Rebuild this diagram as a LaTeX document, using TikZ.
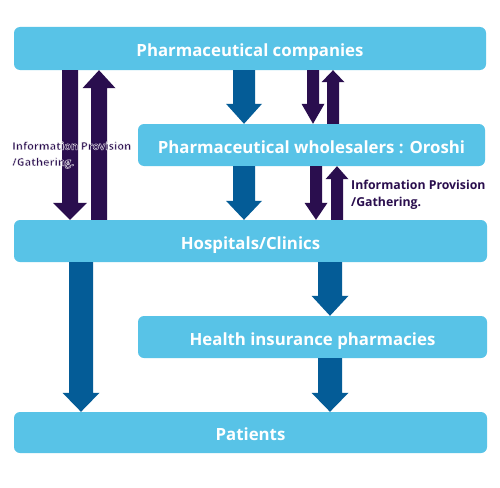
\documentclass[tikz,border=0pt]{standalone}
\usepackage{fontspec}
\setmainfont{Open Sans}
\usetikzlibrary{calc}
\definecolor{boxblue}{HTML}{58C3E7}
\definecolor{arrblue}{HTML}{045C97}
\definecolor{arrpurple}{HTML}{2A0E4E}
\newcommand\halotext[1]{\special{pdf:code 2 Tr 0.35 w 1 1 1 RG}#1\special{pdf:code 0 Tr}}
\tikzset{
  box/.style={fill=boxblue, rounded corners=6pt, inner sep=0pt, text=white,
    font=\bfseries\fontsize{16.8}{20}\selectfont, anchor=center,
    text height=16pt, text depth=0pt},
  lbl/.style={text=arrpurple, font=\bfseries\fontsize{10.9}{16}\selectfont, align=left, inner sep=0pt}
}
% down arrow: color, x, from node, to node, shaft half, head half, head length
\newcommand\dnarrow[7]{%
  \fill[#1] let \p1=(#3.south), \p2=(#4.north) in
   (#2pt-#5pt,\y1) -- (#2pt+#5pt,\y1) -- (#2pt+#5pt,\y2+#7pt) -- (#2pt+#6pt,\y2+#7pt)
   -- (#2pt,\y2) -- (#2pt-#6pt,\y2+#7pt) -- (#2pt-#5pt,\y2+#7pt) -- cycle;}
% up arrow: color, x, lower node, upper node, shaft half, head half, head length
\newcommand\uparr[7]{%
  \fill[#1] let \p1=(#3.north), \p2=(#4.south) in
   (#2pt-#5pt,\y1) -- (#2pt+#5pt,\y1) -- (#2pt+#5pt,\y2-#7pt) -- (#2pt+#6pt,\y2-#7pt)
   -- (#2pt,\y2) -- (#2pt-#6pt,\y2-#7pt) -- (#2pt-#5pt,\y2-#7pt) -- cycle;}
\begin{document}
\begin{tikzpicture}[x=1pt,y=-1pt]
\useasboundingbox[fill=white] (0,0) rectangle (500,487);
\node[box, minimum width=472pt, minimum height=43pt] (comp) at (250,48.5) {Pharmaceutical companies};
\node[box, minimum width=347pt, minimum height=42pt] (whole) at (311.5,145) {Pharmaceutical wholesalers : Oroshi};
\node[box, minimum width=473pt, minimum height=42pt] (hosp) at (250.5,241) {Hospitals/Clinics};
\node[box, minimum width=349pt, minimum height=42pt] (pharm) at (312.5,337) {Health insurance pharmacies};
\node[box, minimum width=473pt, minimum height=41pt] (pat) at (250.5,432.5) {Patients};
% purple arrows
\dnarrow{arrpurple}{70}{comp}{hosp}{8}{17}{17}
\uparr{arrpurple}{99}{hosp}{comp}{8}{16.5}{18}
\dnarrow{arrpurple}{313}{comp}{whole}{6}{11.5}{20}
\uparr{arrpurple}{333}{whole}{comp}{6}{11.5}{12}
\dnarrow{arrpurple}{316}{whole}{hosp}{6}{11.5}{17}
\uparr{arrpurple}{337}{hosp}{whole}{6}{11.5}{13}
% blue arrows
\dnarrow{arrblue}{244}{comp}{whole}{11}{18}{20}
\dnarrow{arrblue}{244}{whole}{hosp}{11}{18}{19}
\dnarrow{arrblue}{81}{hosp}{pat}{12}{18.5}{19}
\dnarrow{arrblue}{330}{hosp}{pharm}{12}{18.5}{20}
\dnarrow{arrblue}{330}{pharm}{pat}{12}{18.5}{19}
% labels
\node[lbl, anchor=west] (l1) at (12,155) {\halotext{Information Provision}\\\halotext{/Gathering.}};
\node[lbl, anchor=west, font=\bfseries\fontsize{12.3}{17.5}\selectfont] (l2) at (351,195) {Information Provision\\/Gathering.};
\end{tikzpicture}
\end{document}
